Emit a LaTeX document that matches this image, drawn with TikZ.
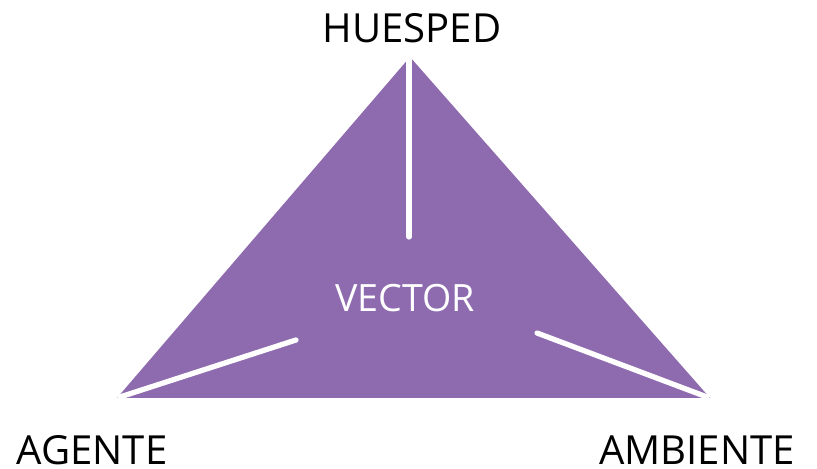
\documentclass[tikz,border=0pt]{standalone}
\usepackage{fontspec}
\setmainfont{Open Sans}
\usepackage{tikz}
\usepackage{xcolor}
\definecolor{violeta}{HTML}{8E6BAF}
\begin{document}
\begin{tikzpicture}
\tikzstyle{etiqueta} =[text=black,inner sep=0pt,font=\fontsize{11.4pt}{13pt}\selectfont]
\tikzstyle{raya} =[draw=white,line width=1.5pt,line cap=round]
\useasboundingbox (0,0) rectangle (8.17,4.69);

\coordinate (agente) at (1.17,0.71);
\coordinate (ambiente) at (7.10,0.71);
\coordinate (huesped) at (4.10,4.12);

\fill[violeta] (agente) -- (ambiente) -- (huesped) -- cycle;

\coordinate (h1) at (4.09,4.10);
\coordinate (h2) at (4.09,2.32);
\coordinate (a1) at (1.20,0.72);
\coordinate (a2) at (2.96,1.29);
\coordinate (b1) at (7.07,0.72);
\coordinate (b2) at (5.37,1.36);
\draw[raya] (h1) -- (h2);
\draw[raya] (a1) -- (a2);
\draw[raya] (b1) -- (b2);

\node[etiqueta](lh) at (4.12,4.41){HUESPED};
\node[etiqueta](la) at (0.92,0.19){AGENTE};
\node[etiqueta](lb) at (6.97,0.19){AMBIENTE};
\node[etiqueta,text=white,font=\fontsize{10.7pt}{12pt}\selectfont](lv) at (4.05,1.71){VECTOR};

\end{tikzpicture}
\end{document}
